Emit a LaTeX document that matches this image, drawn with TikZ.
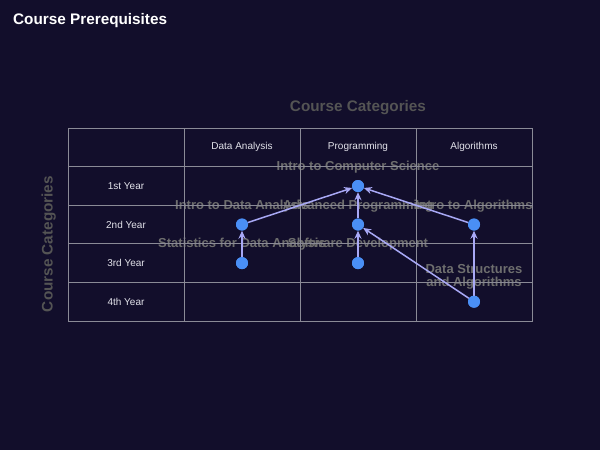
\documentclass[tikz,border=0pt]{standalone}
\usepackage{fontspec}
\setmainfont{Liberation Sans}
\usetikzlibrary{arrows.meta}
\definecolor{bg}{HTML}{120E2B}
\definecolor{gridline}{HTML}{8A8A96}
\definecolor{dot}{HTML}{4A8FF5}
\definecolor{edge}{HTML}{A8A8F5}
\definecolor{faint}{HTML}{6E6E6E}
\definecolor{axisgray}{HTML}{545454}
\definecolor{celltext}{HTML}{E2E2EA}
\tikzset{
  course/.style={circle, fill=dot, minimum size=12pt, inner sep=0pt},
  coursename/.style={text=faint, font=\fontsize{13}{13}\selectfont\bfseries, align=center, inner sep=0pt, anchor=base},
  cell/.style={text=celltext, font=\fontsize{10}{12}\selectfont, inner sep=0pt},
  prereq/.style={draw=edge, line width=1.5pt, -{Stealth[length=8pt,width=7pt]}},
  axislabel/.style={text=axisgray, font=\fontsize{15.3}{16}\selectfont\bfseries, inner sep=0pt, anchor=base},
  gridstyle/.style={draw=gridline, line width=1pt},
}
\begin{document}
\begin{tikzpicture}[x=1pt, y=-1pt]
  \useasboundingbox (0,0) rectangle (600,450);
  \fill[bg] (0,0) rectangle (600,450);

  % titles
  \node[text=white, font=\fontsize{15.3}{16}\selectfont\bfseries, inner sep=0pt, anchor=base west] (title) at (13,24.5) {Course Prerequisites};
  \node[axislabel] (xaxis) at (358,111.5) {Course Categories};
  \node[axislabel, rotate=90] (yaxis) at (52.5,244) {Course Categories};

  % course dots
  \node[course] (ics) at (358,186) {};
  \node[course] (ida) at (242,224.5) {};
  \node[course] (adv) at (358,224.5) {};
  \node[course] (ial) at (474,224.5) {};
  \node[course] (sta) at (242,263.1) {};
  \node[course] (swd) at (358,263.1) {};
  \node[course] (dsa) at (474,301.7) {};

  % course names (base = last line)
  \node[coursename] (n-ics) at ([yshift=15.3pt]ics.center) {Intro to Computer Science};
  \node[coursename] (n-ida) at ([yshift=15.3pt]ida.center) {Intro to Data Analysis};
  \node[coursename] (n-adv) at ([yshift=15.3pt]adv.center) {Advanced Programming};
  \node[coursename] (n-ial) at ([yshift=15.3pt]ial.center) {Intro to Algorithms};
  \node[coursename] (n-sta) at ([yshift=15.3pt]sta.center) {Statistics for Data Analysis};
  \node[coursename] (n-swd) at ([yshift=15.3pt]swd.center) {Software Development};
  \node[coursename] (n-dsa) at ([yshift=15.3pt]dsa.center) {Data Structures\\and Algorithms};

  % table grid
  \draw[gridstyle] (68,128) rectangle (532,321);
  \foreach \x in {184,300,416} \draw[gridstyle] (\x,128) -- (\x,321);
  \foreach \y in {166.6,205.2,243.8,282.4} \draw[gridstyle] (68,\y) -- (532,\y);

  % column headers
  \node[cell] (h-da) at (242,147.3) {Data Analysis};
  \node[cell] (h-pr) at (358,147.3) {Programming};
  \node[cell] (h-al) at (474,147.3) {Algorithms};

  % row headers
  \node[cell] (r1) at (126,185.9) {1st Year};
  \node[cell] (r2) at (126,224.5) {2nd Year};
  \node[cell] (r3) at (126,263.1) {3rd Year};
  \node[cell] (r4) at (126,301.7) {4th Year};

  % prerequisite links
  \draw[prereq] (ida) -- (ics);
  \draw[prereq] (adv) -- (ics);
  \draw[prereq] (ial) -- (ics);
  \draw[prereq] (sta) -- (ida);
  \draw[prereq] (swd) -- (adv);
  \draw[prereq] (dsa) -- (adv);
  \draw[prereq] (dsa) -- (ial);

  % redraw dots above the links
  \foreach \c in {ics,ida,adv,ial,sta,swd,dsa} \fill[dot] (\c) circle (6pt);
\end{tikzpicture}
\end{document}
